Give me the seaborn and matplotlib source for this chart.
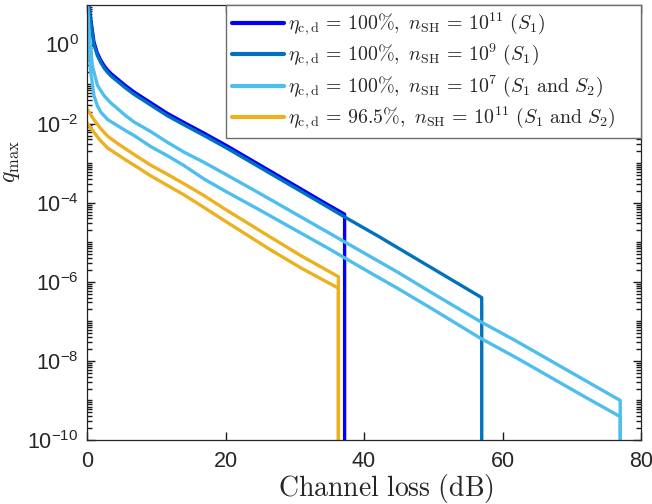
import numpy as np
import pandas as pd
import seaborn as sns
import matplotlib.pyplot as plt
from matplotlib.ticker import FixedLocator, LogFormatterSciNotation, NullFormatter

# values, log10(q_max) against channel loss (dB)
# a curve ends with a drop to zero, kept as 1e-12 (below the axis)
loss_blue = [0, 0.25, 0.53, 1.0, 1.5, 2.0, 2.5, 3.0, 3.5, 4.4, 5.5, 6.8, 9.2, 11.6, 14.0, 16.9, 20.2,
             25, 30, 34, 37.2, 37.2]
logq_blue = [1.3, 1.0, 0.66, 0.07, -0.22, -0.40, -0.54, -0.65, -0.74, -0.87, -1.03, -1.20, -1.47,
             -1.74, -1.97, -2.24, -2.56, -3.05, -3.56, -3.97, -4.29, -12]

loss_dark = [0, 0.25, 0.53, 1.0, 1.5, 2.0, 2.5, 3.0, 3.5, 4.4, 5.5, 6.8, 9.2, 11.6, 14.0, 16.9, 20.2,
             25, 30, 34, 37.2, 42, 47, 52, 57, 57]
logq_dark = [1.3, 0.95, 0.6, 0.0, -0.28, -0.46, -0.60, -0.71, -0.80, -0.93, -1.09, -1.26, -1.53,
             -1.80, -2.03, -2.30, -2.62, -3.11, -3.62, -4.03, -4.36, -4.84, -5.36, -5.88, -6.40, -12]

loss_light1 = [0, 0.3, 0.77, 1.5, 2.45, 3.4, 4.4, 5.6, 6.8, 9.2, 11.6, 14.0, 16.9, 20, 25, 30, 35, 40,
               45, 50, 56.75, 62, 67, 72, 77, 77]
logq_light1 = [1.3, 0.3, -0.53, -1.03, -1.29, -1.47, -1.62, -1.80, -1.96, -2.20, -2.47, -2.72, -2.98,
               -3.28, -3.77, -4.27, -4.77, -5.27, -5.77, -6.30, -7.00, -7.50, -8.00, -8.50, -9.00, -12]

loss_light2 = [0, 0.15, 0.53, 1.0, 1.5, 2.0, 3.0, 4.4, 5.6, 6.8, 9.2, 11.6, 14.0, 16.9, 20, 25, 30, 35,
               40, 45, 50, 56.75, 62, 67, 72, 77, 77]
logq_light2 = [1.3, 0.3, -0.69, -1.29, -1.55, -1.71, -1.90, -2.05, -2.18, -2.30, -2.58, -2.81, -3.06,
               -3.40, -3.71, -4.19, -4.68, -5.17, -5.68, -6.18, -6.70, -7.42, -7.92, -8.42, -8.92,
               -9.41, -12]

loss_orange1 = [0, 1, 2, 3, 4.4, 5.6, 6.8, 9.2, 11.6, 14, 16.9, 20, 26.4, 31, 36.3, 36.3]
logq_orange1 = [-1.62, -1.90, -2.13, -2.32, -2.50, -2.64, -2.78, -3.05, -3.28, -3.52, -3.82, -4.17,
                -4.86, -5.35, -5.87, -12]

loss_orange2 = [0, 1, 2, 3, 4.4, 5.6, 6.8, 9.2, 11.6, 14, 16.9, 20, 26.4, 31, 36.3, 36.3]
logq_orange2 = [-1.98, -2.22, -2.44, -2.62, -2.78, -2.92, -3.05, -3.32, -3.56, -3.80, -4.12, -4.47,
                -5.18, -5.66, -6.16, -12]

labels = [
    r'$\eta_{\mathrm{c,d}}\,=\,100\%,\ n_{\mathrm{SH}}\,=\,10^{11}\ (S_1)$',
    r'$\eta_{\mathrm{c,d}}\,=\,100\%,\ n_{\mathrm{SH}}\,=\,10^{9}\ (S_1)$',
    r'$\eta_{\mathrm{c,d}}\,=\,100\%,\ n_{\mathrm{SH}}\,=\,10^{7}\ (S_1\ \mathrm{and}\ S_2)$',
    r'$\eta_{\mathrm{c,d}}\,=\,96.5\%,\ n_{\mathrm{SH}}\,=\,10^{11}\ (S_1\ \mathrm{and}\ S_2)$',
]
colors = ['#0000FF', '#0072BD', '#4DBEEE', '#EDB120']

curves = [
    (labels[0], 'a', loss_blue, logq_blue),
    (labels[1], 'a', loss_dark, logq_dark),
    (labels[2], 'a', loss_light1, logq_light1),
    (labels[2], 'b', loss_light2, logq_light2),
    (labels[3], 'a', loss_orange1, logq_orange1),
    (labels[3], 'b', loss_orange2, logq_orange2),
]

frames = []
for lab, branch, x, lq in curves:
    frames.append(pd.DataFrame({'loss': x, 'q': 10.0 ** np.array(lq), 'case': lab, 'branch': branch}))
df = pd.concat(frames, ignore_index=True)

if __name__ == '__main__':
    sns.set_theme(style="ticks")
    plt.rcParams['font.family'] = ['Liberation Sans', 'DejaVu Sans']
    plt.rcParams['mathtext.fontset'] = 'cm'
    plt.rcParams['xtick.direction'] = 'in'
    plt.rcParams['ytick.direction'] = 'in'

    fig = plt.figure(figsize=(6.52, 5.04), dpi=100)
    ax = fig.add_axes([87 / 652, 1 - 440 / 504, (641 - 87) / 652, (440 - 5) / 504])

    sns.lineplot(data=df, x='loss', y='q', hue='case', units='branch', estimator=None,
                 sort=False, hue_order=labels, palette=colors, linewidth=2.4, ax=ax)

    ax.set_yscale('log')
    ax.set_xlim(0, 80)
    ax.set_ylim(1e-10, 1e1)
    ax.set_xticks([0, 20, 40, 60, 80])
    ax.yaxis.set_major_locator(FixedLocator([1e-10, 1e-8, 1e-6, 1e-4, 1e-2, 1e0]))
    ax.yaxis.set_major_formatter(LogFormatterSciNotation())
    minor = [m * 10.0 ** e for e in range(-10, 1) for m in range(1, 10)]
    ax.yaxis.set_minor_locator(FixedLocator(minor))
    ax.yaxis.set_minor_formatter(NullFormatter())

    for side in ['top', 'right', 'left', 'bottom']:
        ax.spines[side].set_visible(True)
        ax.spines[side].set_color('#262626')
        ax.spines[side].set_linewidth(0.9)
    ax.tick_params(which='both', direction='in', top=True, right=True, left=True, bottom=True,
                   color='#1a1a1a', labelcolor='#262626', labelsize=15.5, width=1.0)
    ax.tick_params(which='major', length=6)
    ax.tick_params(which='minor', length=3.5)
    ax.tick_params(axis='x', which='major', pad=8)
    ax.tick_params(axis='y', which='major', pad=6)

    ax.set_xlabel(r'$\mathrm{Channel\ loss\ (dB)}$', fontsize=20)
    ax.xaxis.set_label_coords(0.54, -0.074)
    ax.set_ylabel(r'$q_{\max}$', fontsize=17)
    ax.yaxis.set_label_coords(-0.117, 0.64)

    x0 = (226 - 87) / (641 - 87)
    leg = ax.legend(loc='upper right', bbox_to_anchor=(x0, 0, 1 - x0, 1), mode='expand',
                    borderaxespad=0, fontsize=14.3, frameon=True, fancybox=False,
                    framealpha=1, edgecolor='#6e6e6e', handlelength=2.6, handletextpad=0.2,
                    labelspacing=0.2, borderpad=0.3)
    leg.get_frame().set_linewidth(1.0)
    for line in leg.get_lines():
        line.set_linewidth(3)

    fig.savefig('out.png', dpi=100)
